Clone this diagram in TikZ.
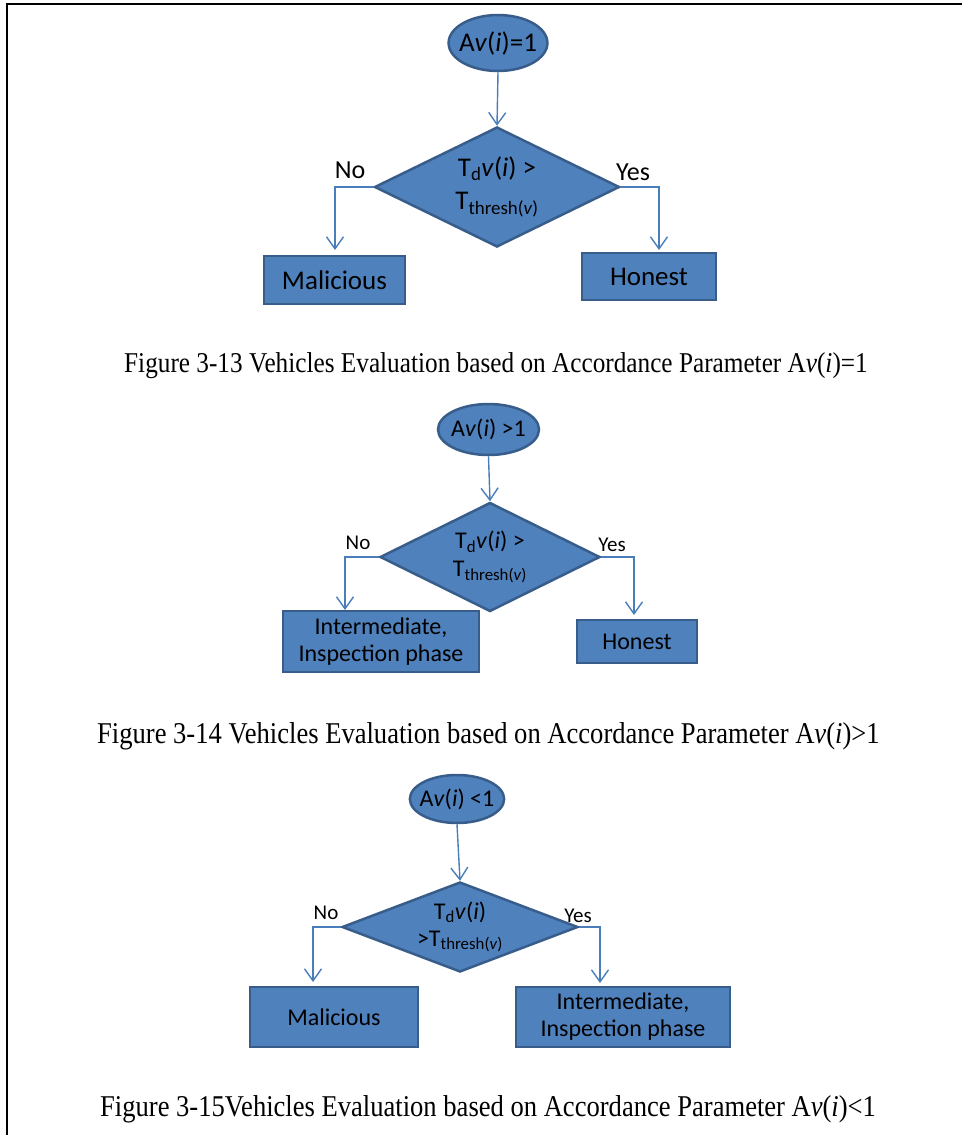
\documentclass[tikz,border=0pt]{standalone}
\usepackage{fontspec}
\setmainfont{Carlito}
\newfontfamily\capfont[FakeStretch=0.88]{Liberation Serif}
\usetikzlibrary{shapes.geometric,arrows.meta}
\definecolor{boxfill}{HTML}{4F81BD}
\definecolor{boxline}{HTML}{385D8A}
\definecolor{flowblue}{HTML}{4A7EBB}
\tikzset
{
    startnode/.style = {ellipse, draw=boxline, fill=boxfill, line width=2.5pt, inner sep=-4pt, align=center},
    decisionnode/.style = {diamond, draw=boxline, fill=boxfill, line width=2.5pt, inner sep=0pt},
    decisiontext/.style = {label={[align=center]center:#1}},
    resultnode/.style = {rectangle, draw=boxline, fill=boxfill, line width=2.5pt, inner sep=0pt, align=center},
    flow/.style = {draw=flowblue, line width=1.4pt, -{Straight Barb[length=12pt,width=17pt,line width=1.4pt]}},
    figcaption/.style = {anchor=base west, inner sep=0pt}
}
\begin{document}
\begin{tikzpicture}[x=1pt,y=-1pt]
\useasboundingbox (0,0) rectangle (962,1135);
\draw[line width=1.3pt] (962,4) -- (7,4) -- (7,1135);
% Av(i)=1
\begin{scope}[font=\fontsize{27}{31}\selectfont]
\node[startnode, minimum width=98pt, minimum height=56pt] (e1) at (498,43) {A\textit{v}(\textit{i})=1};
\node[decisionnode, minimum width=245pt, minimum height=120pt, decisiontext={T\textsubscript{d}\textit{v}(\textit{i}) >\\[2pt]T\textsubscript{thresh(\textit{v})}}] (d1) at (497,187) {};
\node[resultnode, minimum width=141pt, minimum height=48pt] (mal1) at (334.5,280) {Malicious};
\node[resultnode, minimum width=134pt, minimum height=47pt] (hon1) at (649,276.5) {Honest};
\node[font=\fontsize{26}{30}\selectfont] (no1) at (350,170) {No};
\node[font=\fontsize{26}{30}\selectfont] (yes1) at (633,172) {Yes};
\end{scope}
\coordinate (n1) at (335,250);
\coordinate (y1) at (659,250);
\draw[flow] (e1.south) -- (d1.north);
\draw[flow] (d1.west) -| (n1);
\draw[flow] (d1.east) -| (y1);
\node[figcaption, font=\capfont\fontsize{28.7}{32}\selectfont] (cap1) at (124,372) {Figure 3-13 Vehicles Evaluation based on Accordance Parameter A\textit{v}(\textit{i})=1};
% Av(i) >1
\begin{scope}[font=\fontsize{24}{27}\selectfont]
\node[startnode, minimum width=101pt, minimum height=51pt] (e2) at (488.5,429.5) {A\textit{v}(\textit{i}) >1};
\node[decisionnode, minimum width=220pt, minimum height=109pt, decisiontext={T\textsubscript{d}\textit{v}(\textit{i}) >\\[1pt]T\textsubscript{thresh(\textit{v})}}] (d2) at (490,557) {};
\node[resultnode, minimum width=196pt, minimum height=61pt] (int2) at (381,641.5) {Intermediate,\\Inspection phase};
\node[resultnode, minimum width=120pt, minimum height=43pt] (hon2) at (637,641.5) {Honest};
\node[font=\fontsize{21}{25}\selectfont] (no2) at (358,543) {No};
\node[font=\fontsize{21}{25}\selectfont] (yes2) at (612,545) {Yes};
\end{scope}
\coordinate (n2) at (345,610);
\coordinate (y2) at (634,615);
\draw[flow] (e2.south) -- (d2.north);
\draw[flow] (d2.west) -| (n2);
\draw[flow] (d2.east) -| (y2);
\node[figcaption, font=\capfont\fontsize{30.2}{34}\selectfont] (cap2) at (97,743) {Figure 3-14 Vehicles Evaluation based on Accordance Parameter A\textit{v}(\textit{i})>1};
% Av(i) <1
\begin{scope}[font=\fontsize{24}{27}\selectfont]
\node[startnode, minimum width=88pt, minimum height=48pt] (e3) at (457,799) {A\textit{v}(\textit{i}) <1};
\node[decisionnode, minimum width=236pt, minimum height=90pt, decisiontext={T\textsubscript{d}\textit{v}(\textit{i})\\[0pt]>T\textsubscript{thresh(\textit{v})}}] (d3) at (460,927) {};
\node[resultnode, minimum width=168pt, minimum height=60pt] (mal3) at (334,1017) {Malicious};
\node[resultnode, minimum width=214pt, minimum height=60pt] (int3) at (623,1017) {Intermediate,\\Inspection phase};
\node[font=\fontsize{21}{25}\selectfont] (no3) at (326,913) {No};
\node[font=\fontsize{21}{25}\selectfont] (yes3) at (578,916) {Yes};
\end{scope}
\coordinate (n3) at (313,982);
\coordinate (y3) at (600,983);
\draw[flow] (e3.south) -- (d3.north);
\draw[flow] (d3.west) -| (n3);
\draw[flow] (d3.east) -| (y3);
\node[figcaption, font=\capfont\fontsize{30.2}{34}\selectfont] (cap3) at (100,1116) {Figure 3-15Vehicles Evaluation based on Accordance Parameter A\textit{v}(\textit{i})<1};
\end{tikzpicture}
\end{document}
